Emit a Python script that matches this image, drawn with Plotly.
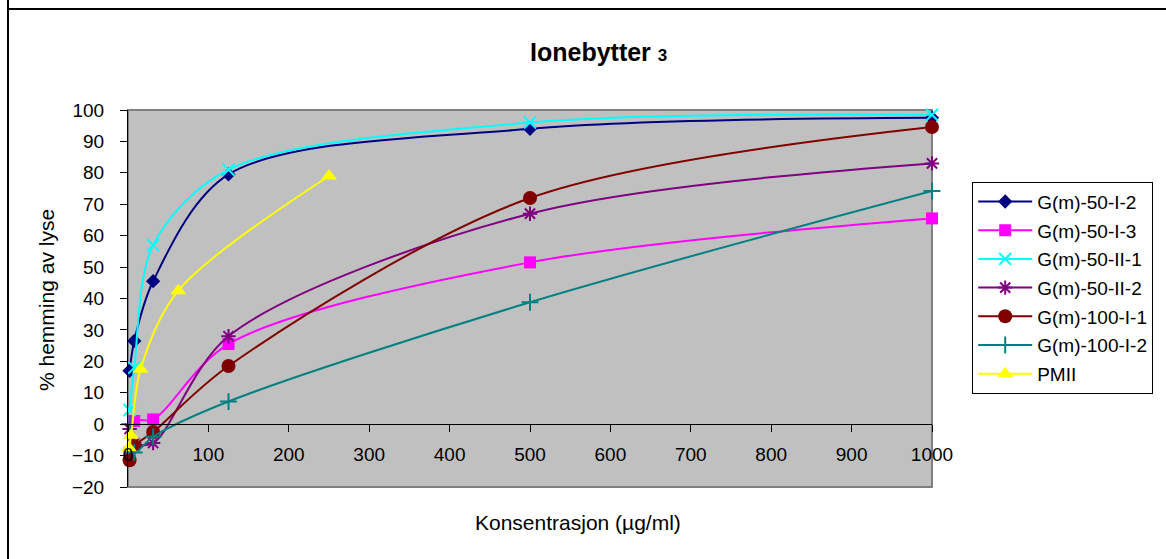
import plotly.graph_objects as go

# ---- data ----
conc = [1.95, 7.8, 31.25, 125, 500, 1000]
conc_pmii = [0.98, 3.9, 15.6, 62.5, 250]

g50_I_2 = [17, 26.5, 45.5, 79.5, 94, 97.5]
g50_I_3 = [-9, 1, 1.5, 25.5, 51.5, 65.5]
g50_II_1 = [4.5, 18, 57, 81, 96, 98.5]
g50_II_2 = [-1.5, -6, -6, 28, 67, 83]
g100_I_1 = [-11.5, -7, -2.5, 18.5, 72, 94.6]
g100_I_2 = [0, -9, -4, 7.2, 38.8, 74.2]
pmii = [-7.5, -3.5, 17.5, 42.5, 79]

series = [
    ("G(m)-50-I-2", conc, g50_I_2, "#000080", "diamond", 11, 0),
    ("G(m)-50-I-3", conc, g50_I_3, "#FF00FF", "square", 12, 0),
    ("G(m)-50-II-1", conc, g50_II_1, "#00FFFF", "x-thin-open", 12, 2),
    ("G(m)-50-II-2", conc, g50_II_2, "#800080", "asterisk-open", 12, 2),
    ("G(m)-100-I-1", conc, g100_I_1, "#800000", "circle", 14, 0),
    ("G(m)-100-I-2", conc, g100_I_2, "#008080", "cross-thin-open", 12, 2),
    ("PMII", conc_pmii, pmii, "#FFFF00", "triangle-up", 14, 0),
]

fig = go.Figure()
for i, (name, xs, ys, col, sym, sz, lw) in enumerate(series):
    mk = dict(symbol=sym, size=sz, color=col)
    if lw:
        mk["line"] = dict(color=col, width=lw)
    else:
        mk["line"] = dict(width=0)
    fig.add_trace(go.Scatter(
        x=xs, y=ys, name=name, mode="lines+markers",
        line=dict(color=col, width=2, shape="spline", smoothing=0.9),
        marker=mk, legendgroup=f"g{i}", cliponaxis=False,
    ))

font = "Liberation Sans"

fig.update_layout(
    width=1166, height=559, autosize=False,
    margin=dict(l=128, r=234, t=110, b=72),
    paper_bgcolor="white", plot_bgcolor="#C0C0C0",
    font=dict(family=font, size=19, color="black"),
    showlegend=True,
    legend=dict(
        x=1.05, y=0.81, xanchor="left", yanchor="top",
        bgcolor="white", bordercolor="black", borderwidth=1,
        font=dict(family=font, size=19), tracegroupgap=1,
        itemwidth=54,
    ),
    xaxis=dict(
        range=[0, 1000], dtick=100, tick0=0, showgrid=False, zeroline=False,
        showline=True, linecolor="black", linewidth=1,
        ticks="outside", ticklen=7, tickcolor="black",
        anchor="free", position=20/120, ticklabelstandoff=6,
        tickfont=dict(family=font, size=19),
    ),
    yaxis=dict(
        range=[-20, 100], dtick=10, showgrid=False, zeroline=False,
        showline=True, linecolor="black", linewidth=1,
        ticks="outside", ticklen=7, tickcolor="black", ticklabelstandoff=12,
        tickfont=dict(family=font, size=19),
    ),
    shapes=[
        dict(type="rect", xref="x domain", yref="y domain", x0=0, x1=1, y0=0, y1=1,
             line=dict(color="#808080", width=2), layer="below"),
        dict(type="line", xref="paper", yref="paper", x0=-120/804, x1=-120/804,
             y0=-80/377, y1=1+110/377, line=dict(color="black", width=2)),
        dict(type="line", xref="paper", yref="paper", x0=-121/804, x1=1+250/804,
             y0=1+101/377, y1=1+101/377, line=dict(color="black", width=2)),
    ],
    annotations=[
        dict(text="<b>Ionebytter <span style='font-size:17px'>3</span></b>",
             xref="paper", yref="paper", x=(598-128)/804, y=(487-52)/377,
             showarrow=False, font=dict(family=font, size=25), xanchor="center", yanchor="middle"),
        dict(text="Konsentrasjon (µg/ml)", xref="paper", yref="paper",
             x=(578-128)/804, y=(487-522)/377, showarrow=False,
             font=dict(family=font, size=21), xanchor="center", yanchor="middle"),
        dict(text="% hemming av lyse", xref="paper", yref="paper",
             x=(46-128)/804, y=(487-300)/377, showarrow=False, textangle=-90,
             font=dict(family=font, size=21), xanchor="center", yanchor="middle"),
    ],
)

fig.write_html("out.html")
